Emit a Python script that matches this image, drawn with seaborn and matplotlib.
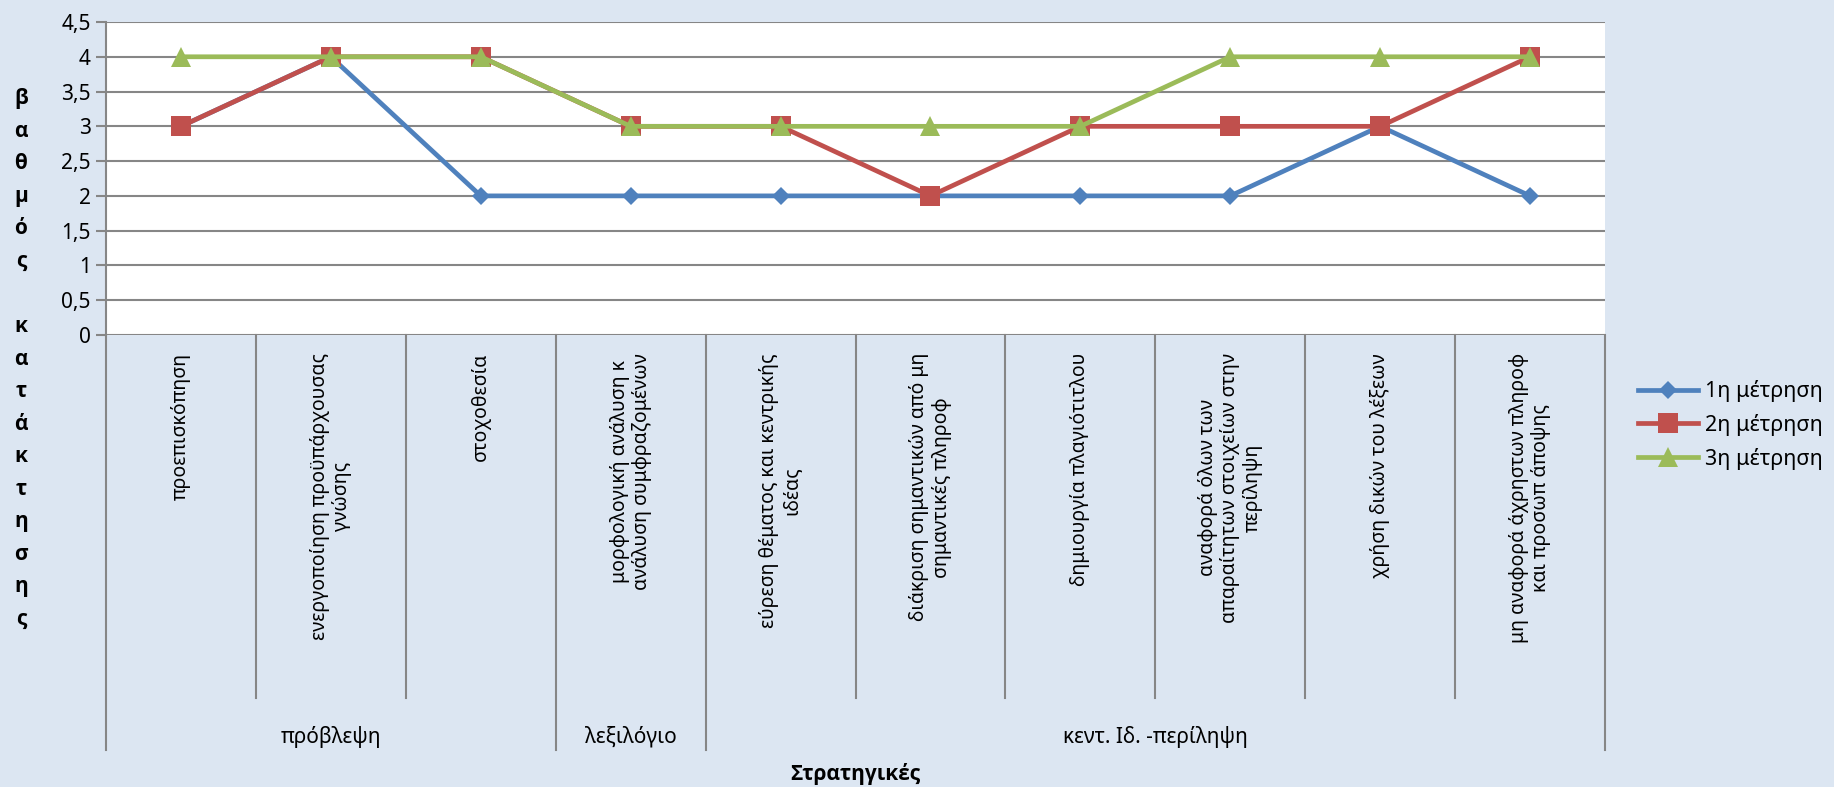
import numpy as np
import pandas as pd
import matplotlib
matplotlib.use('Agg')
import matplotlib.pyplot as plt
import matplotlib.transforms as mtransforms
import seaborn as sns

categories = [
    'προεπισκόπηση',
    'ενεργοποίηση προϋπάρχουσας\nγνώσης',
    'στοχοθεσία',
    'μορφολογική ανάλυση κ\nανάλυση συμφραζομένων',
    'εύρεση θέματος και κεντρικής\nιδέας',
    'διάκριση σημαντικών από μη\nσημαντικές πληροφ',
    'δημιουργία πλαγιότιτλου',
    'αναφορά όλων των\nαπαραίτητων στοιχείων στην\nπερίληψη',
    'χρήση δικών του λέξεων',
    'μη αναφορά άχρηστων πληροφ\nκαι προσωπ άποψης',
]
groups = ['πρόβλεψη', 'λεξιλόγιο', 'κεντ. Ιδ. -περίληψη']
group_sizes = [3, 1, 6]
series_names = ['1η μέτρηση', '2η μέτρηση', '3η μέτρηση']
values_1 = [3, 4, 2, 2, 2, 2, 2, 2, 3, 2]
values_2 = [3, 4, 4, 3, 3, 2, 3, 3, 3, 4]
values_3 = [4, 4, 4, 3, 3, 3, 3, 4, 4, 4]
y_ticks = [0, 0.5, 1, 1.5, 2, 2.5, 3, 3.5, 4, 4.5]
y_label = 'βαθμός κατάκτησης'
x_label = 'Στρατηγικές'

plt.rcParams['font.family'] = ['Noto Sans', 'DejaVu Sans']
bold_family = ['Open Sans', 'DejaVu Sans']

bg = '#DCE6F2'
grid_col = '#868686'
colors = ['#4F81BD', '#C0504D', '#9BBB59']
markers = ['D', 's', '^']
msizes = [9, 14, 15]

fig = plt.figure(figsize=(18.34, 7.87), dpi=100, facecolor=bg)
ax = fig.add_axes([106 / 1834, 1 - 335 / 787, (1605 - 106) / 1834, 313 / 787])
ax.set_facecolor('white')

pos = np.arange(len(categories))
for name, vals, c, m, ms in zip(series_names, [values_1, values_2, values_3], colors, markers, msizes):
    df = pd.DataFrame({'pos': pos, 'value': vals})
    sns.lineplot(data=df, x='pos', y='value', ax=ax, color=c, marker=m, markersize=ms,
                 markeredgewidth=0, linewidth=3.4, label=name, clip_on=False)

ax.set_xlim(-0.5, len(categories) - 0.5)
ax.set_ylim(0, 4.5)
ax.set_yticks(y_ticks)
ax.set_yticklabels([('%g' % t).replace('.', ',') for t in y_ticks], fontsize=15)
ax.yaxis.grid(True, color=grid_col, linewidth=1.5)
ax.set_axisbelow(True)
ax.tick_params(axis='y', length=7, width=1.5, color=grid_col, pad=4)
ax.set_xticks([])
ax.set_xlabel('')
ax.set_ylabel('')
for s in ['top', 'right', 'bottom']:
    ax.spines[s].set_visible(False)
ax.spines['left'].set_color(grid_col)
ax.spines['left'].set_linewidth(1.5)
ax.spines['left'].set_bounds(0, 4.5)

trans = mtransforms.blended_transform_factory(ax.transData, ax.transAxes)
# category boundaries below the axis, longer at group edges
inner_bottom = -(698 - 335) / 313
outer_bottom = -(750 - 335) / 313
edges = np.cumsum([0] + group_sizes) - 0.5
for i in range(len(categories) + 1):
    xb = i - 0.5
    yb = outer_bottom if xb in edges else inner_bottom
    ax.plot([xb, xb], [0, yb], transform=trans, color=grid_col, linewidth=1.5, clip_on=False)

for i, lab in enumerate(categories):
    ax.text(i, -(353 - 335) / 313, lab, transform=trans, rotation=90, ha='center', va='top',
            multialignment='center', fontsize=14, linespacing=1.15)

for g, a, b in zip(groups, edges[:-1], edges[1:]):
    ax.text((a + b) / 2, -(737 - 335) / 313, g, transform=trans, ha='center', va='center', fontsize=15)

fig.text(0.5 * (106 + 1605) / 1834, 1 - 774 / 787, x_label, ha='center', va='center',
         fontsize=15, fontweight='bold', family=bold_family)
fig.text(21 / 1834, 1 - 359 / 787, '\n'.join(list(y_label)), ha='center', va='center',
         fontsize=15, fontweight='bold', family=bold_family, linespacing=1.72)

ax.get_legend().remove()
handles, labels = ax.get_legend_handles_labels()
fig.legend(handles, labels, loc='center left', bbox_to_anchor=(1638 / 1834, 1 - 425 / 787),
           frameon=False, fontsize=15.5, handlelength=2.8, handletextpad=0.3, labelspacing=0.55,
           borderpad=0, borderaxespad=0)

fig.savefig('out.png', dpi=100, facecolor=bg)
